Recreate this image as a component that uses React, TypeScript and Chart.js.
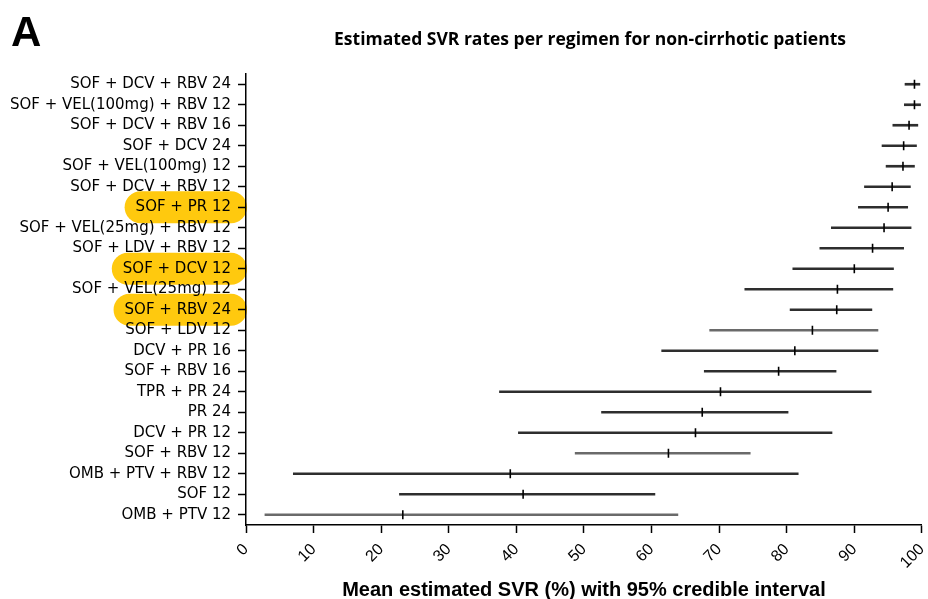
import React, { useEffect, useRef } from "react";
import { Chart, registerables } from "chart.js";

Chart.register(...registerables);

const regimens = [
  "SOF + DCV + RBV 24",
  "SOF + VEL(100mg) + RBV 12",
  "SOF + DCV + RBV 16",
  "SOF + DCV 24",
  "SOF + VEL(100mg) 12",
  "SOF + DCV + RBV 12",
  "SOF + PR 12",
  "SOF + VEL(25mg) + RBV 12",
  "SOF + LDV + RBV 12",
  "SOF + DCV 12",
  "SOF + VEL(25mg) 12",
  "SOF + RBV 24",
  "SOF + LDV 12",
  "DCV + PR 16",
  "SOF + RBV 16",
  "TPR + PR 24",
  "PR 24",
  "DCV + PR 12",
  "SOF + RBV 12",
  "OMB + PTV + RBV 12",
  "SOF 12",
  "OMB + PTV 12",
];

const meanSVR = [98.9, 98.9, 98.1, 97.3, 97.2, 95.6, 95.0, 94.4, 92.7, 90.0, 87.5, 87.4, 83.8, 81.2, 78.8, 70.2, 67.5, 66.5, 62.5, 39.1, 41.0, 23.2];
const lowerCI = [97.5, 97.4, 95.7, 94.1, 94.7, 91.5, 90.6, 86.6, 84.9, 80.9, 73.8, 80.5, 68.6, 61.5, 67.8, 37.5, 52.6, 40.3, 48.7, 7.0, 22.7, 2.8];
const upperCI = [99.7, 99.8, 99.4, 99.2, 98.9, 98.3, 97.9, 98.4, 97.3, 95.8, 95.7, 92.6, 93.5, 93.5, 87.3, 92.5, 80.2, 86.7, 74.6, 81.7, 60.5, 63.9];

const highlighted = ["SOF + PR 12", "SOF + DCV 12", "SOF + RBV 24"];
const lighterRows = ["SOF + LDV 12", "SOF + RBV 12", "OMB + PTV 12"];

const chartTitle = "Estimated SVR rates per regimen for non-cirrhotic patients";
const panelLetter = "A";
const xAxisTitle = "Mean estimated SVR (%) with 95% credible interval";
const xMin = 0;
const xMax = 100;
const xStep = 10;

const LABEL_FONT = { family: "'DejaVu Sans'", size: 15 };

const pillPlugin = {
  id: "pills",
  beforeDraw(chart: any) {
    const { ctx } = chart;
    const y = chart.scales.y;
    ctx.save();
    ctx.font = `${LABEL_FONT.size}px ${LABEL_FONT.family}`;
    ctx.fillStyle = "#FFC90E";
    highlighted.forEach((lab) => {
      const idx = regimens.indexOf(lab);
      if (idx < 0) return;
      const cy = y.getPixelForValue(idx);
      const textRight = y.right - 8 - 7;
      const w = ctx.measureText(lab).width;
      const left = textRight - w - 11;
      const right = textRight + 16;
      const h = 32;
      const r = h / 2;
      ctx.beginPath();
      ctx.moveTo(left + r, cy - r);
      ctx.lineTo(right - r, cy - r);
      ctx.arc(right - r, cy, r, -Math.PI / 2, Math.PI / 2);
      ctx.lineTo(left + r, cy + r);
      ctx.arc(left + r, cy, r, Math.PI / 2, (3 * Math.PI) / 2);
      ctx.closePath();
      ctx.fill();
    });
    ctx.restore();
  },
};

const titlePlugin = {
  id: "titles",
  afterDraw(chart: any) {
    const { ctx, chartArea } = chart;
    ctx.save();
    ctx.fillStyle = "#000";
    ctx.textBaseline = "alphabetic";
    ctx.textAlign = "left";
    ctx.font = "bold 42px 'Liberation Sans'";
    ctx.fillText(panelLetter, 11, 46);
    ctx.textAlign = "center";
    ctx.textBaseline = "middle";
    ctx.font = "bold 17.5px 'Open Sans'";
    ctx.fillText(chartTitle, 590, 40);
    ctx.restore();
  },
};

export default function App() {
  const ref = useRef<HTMLCanvasElement | null>(null);

  useEffect(() => {
    if (!ref.current) return;
    const chart = new Chart(ref.current, {
      type: "bar",
      data: {
        labels: regimens,
        datasets: [
          {
            type: "bar",
            data: regimens.map((_, i) => [lowerCI[i], upperCI[i]]) as any,
            backgroundColor: regimens.map((r) => (lighterRows.includes(r) ? "#6a6a6a" : "#2e2e2e")),
            barThickness: 2,
            borderSkipped: false,
            borderWidth: 0,
            order: 2,
            xAxisID: "x",
            yAxisID: "y",
          } as any,
          {
            type: "scatter",
            data: regimens.map((r, i) => ({ x: meanSVR[i], y: r })) as any,
            pointStyle: "line",
            rotation: 90,
            radius: 4.5,
            hoverRadius: 4.5,
            borderColor: "#000",
            backgroundColor: "#000",
            borderWidth: 1.6,
            showLine: false,
            order: 1,
            xAxisID: "x",
            yAxisID: "y",
          } as any,
        ],
      },
      options: {
        indexAxis: "y",
        animation: false,
        responsive: true,
        maintainAspectRatio: false,
        devicePixelRatio: 1,
        layout: { padding: { top: 74, right: 0, left: 0, bottom: 0 } },
        plugins: {
          legend: { display: false },
          tooltip: { enabled: false },
          title: { display: false },
        },
        scales: {
          x: {
            type: "linear",
            position: "bottom",
            min: xMin,
            max: xMax,
            afterFit(scale: any) {
              scale.height = 74;
              scale.paddingRight = 3;
              scale.paddingLeft = 0;
            },
            ticks: {
              stepSize: xStep,
              autoSkip: false,
              maxRotation: 45,
              minRotation: 45,
              color: "#000",
              padding: 7,
              font: { family: "'Liberation Sans'", size: 16 },
            },
            grid: {
              display: true,
              drawOnChartArea: false,
              drawTicks: true,
              tickLength: 8,
              tickColor: "#000",
              tickWidth: 1.5,
            },
            border: { display: true, color: "#000", width: 1.5 },
            title: {
              display: true,
              text: xAxisTitle,
              color: "#000",
              font: { family: "'Liberation Sans'", size: 20, weight: "bold" },
              padding: { top: 0, bottom: -3 },
            },
          },
          y: {
            type: "category",
            offset: true,
            afterFit(scale: any) {
              scale.width = 246;
            },
            ticks: {
              autoSkip: false,
              color: "#000",
              padding: 7,
              font: LABEL_FONT,
            },
            grid: {
              display: true,
              offset: false,
              drawOnChartArea: false,
              drawTicks: true,
              tickLength: 8,
              tickColor: "#000",
              tickWidth: 1.5,
            },
            border: { display: true, color: "#000", width: 1.5 },
          },
        },
      } as any,
      plugins: [pillPlugin, titlePlugin],
    });
    return () => chart.destroy();
  }, []);

  return (
    <div style={{ position: "fixed", left: 0, top: 0, width: 928, height: 599, background: "#fff" }}>
      <canvas ref={ref} />
    </div>
  );
}
